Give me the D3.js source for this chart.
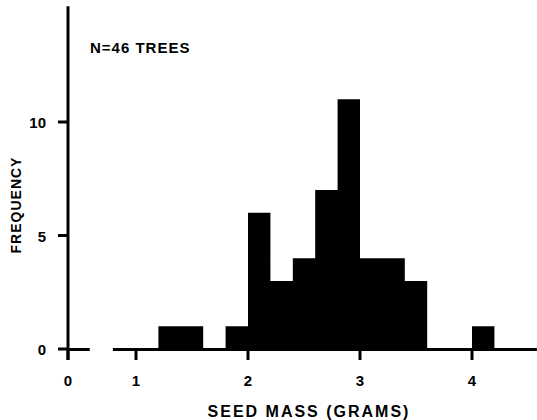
<!DOCTYPE html>
<meta charset="utf-8">
<style>
  body { margin: 0; background: white; }
  text {
    font-family: "Liberation Sans", "DejaVu Sans", sans-serif;
    font-weight: bold;
    fill: black;
  }
  .tick-label { font-size: 15px; }
  .title { font-size: 16px; letter-spacing: 2px; }
</style>
<script src="https://d3js.org/d3.v7.min.js"></script>
<body>
<script>

  var w = 537;
  var h = 420;

  // histogram bins (seed mass, grams) and counts
  var binStart = [1.2, 1.4, 1.8, 2.0, 2.2, 2.4, 2.6, 2.8, 3.0, 3.2, 3.4, 4.0];
  var binEnd   = [1.4, 1.6, 2.0, 2.2, 2.4, 2.6, 2.8, 3.0, 3.2, 3.4, 3.6, 4.2];
  var counts   = [1, 1, 1, 6, 3, 4, 7, 11, 4, 4, 3, 1];

  var xTicks = [0, 1, 2, 3, 4];
  var yTicks = [0, 5, 10];

  var svg = d3.select("body").append("svg")
              .attr("width", w)
              .attr("height", h);

  // broken x axis: 0 sits on the y axis, 1..4 evenly spaced
  var x = d3.scaleLinear().domain([0, 1, 4]).range([68, 136, 472]);
  var y = d3.scaleLinear().domain([0, 10]).range([349, 122]);

  // bars, as one path so neighbouring bars don't show seams
  var p = d3.path();
  counts.forEach(function (d, i) {
    p.rect(x(binStart[i]), y(d), x(binEnd[i]) - x(binStart[i]), y(0) - y(d));
  });
  svg.append("path")
     .attr("d", p.toString())
     .attr("fill", "black");

  // baseline pieces (with a break between 0 and 1)
  var baseSegs = [[0, 0.32], [0.66, 4.6]];
  svg.selectAll("line.base")
     .data(baseSegs)
     .enter()
     .append("line")
     .attr("x1", function (d) { return x(d[0]); })
     .attr("x2", function (d) { return x(d[1]); })
     .attr("y1", y(0) + 0.5)
     .attr("y2", y(0) + 0.5)
     .attr("stroke", "black")
     .attr("stroke-width", 3);

  // y axis line
  svg.append("line")
     .attr("x1", x(0)).attr("x2", x(0))
     .attr("y1", y(15.1)).attr("y2", y(0) + 11)
     .attr("stroke", "black")
     .attr("stroke-width", 3);

  // y ticks
  svg.selectAll("line.ytick")
     .data(yTicks)
     .enter()
     .append("line")
     .attr("x1", x(0) - 10).attr("x2", x(0))
     .attr("y1", function (d) { return y(d); })
     .attr("y2", function (d) { return y(d); })
     .attr("stroke", "black")
     .attr("stroke-width", 3);

  svg.selectAll("text.ylab")
     .data(yTicks)
     .enter()
     .append("text")
     .attr("class", "tick-label")
     .attr("x", 46)
     .attr("y", function (d) { return y(d) + 6; })
     .attr("text-anchor", "end")
     .text(function (d) { return d; });

  // x ticks
  svg.selectAll("line.xtick")
     .data(xTicks)
     .enter()
     .append("line")
     .attr("x1", function (d) { return x(d); })
     .attr("x2", function (d) { return x(d); })
     .attr("y1", y(0))
     .attr("y2", y(0) + 11)
     .attr("stroke", "black")
     .attr("stroke-width", 3);

  svg.selectAll("text.xlab")
     .data(xTicks)
     .enter()
     .append("text")
     .attr("class", "tick-label")
     .attr("x", function (d) { return x(d); })
     .attr("y", 386)
     .attr("text-anchor", "middle")
     .text(function (d) { return d; });

  // titles
  svg.append("text")
     .attr("class", "title")
     .attr("x", 309)
     .attr("y", 417)
     .attr("text-anchor", "middle")
     .text("SEED MASS (GRAMS)");

  svg.append("text")
     .attr("class", "title")
     .attr("transform", "translate(21,205) rotate(-90)")
     .attr("text-anchor", "middle")
     .style("font-size", "14px")
     .style("letter-spacing", "1px")
     .text("FREQUENCY");

  svg.append("text")
     .attr("x", 90)
     .attr("y", 53)
     .style("font-size", "15px")
     .style("letter-spacing", "1px")
     .text("N=46 TREES");
</script>
</body>
